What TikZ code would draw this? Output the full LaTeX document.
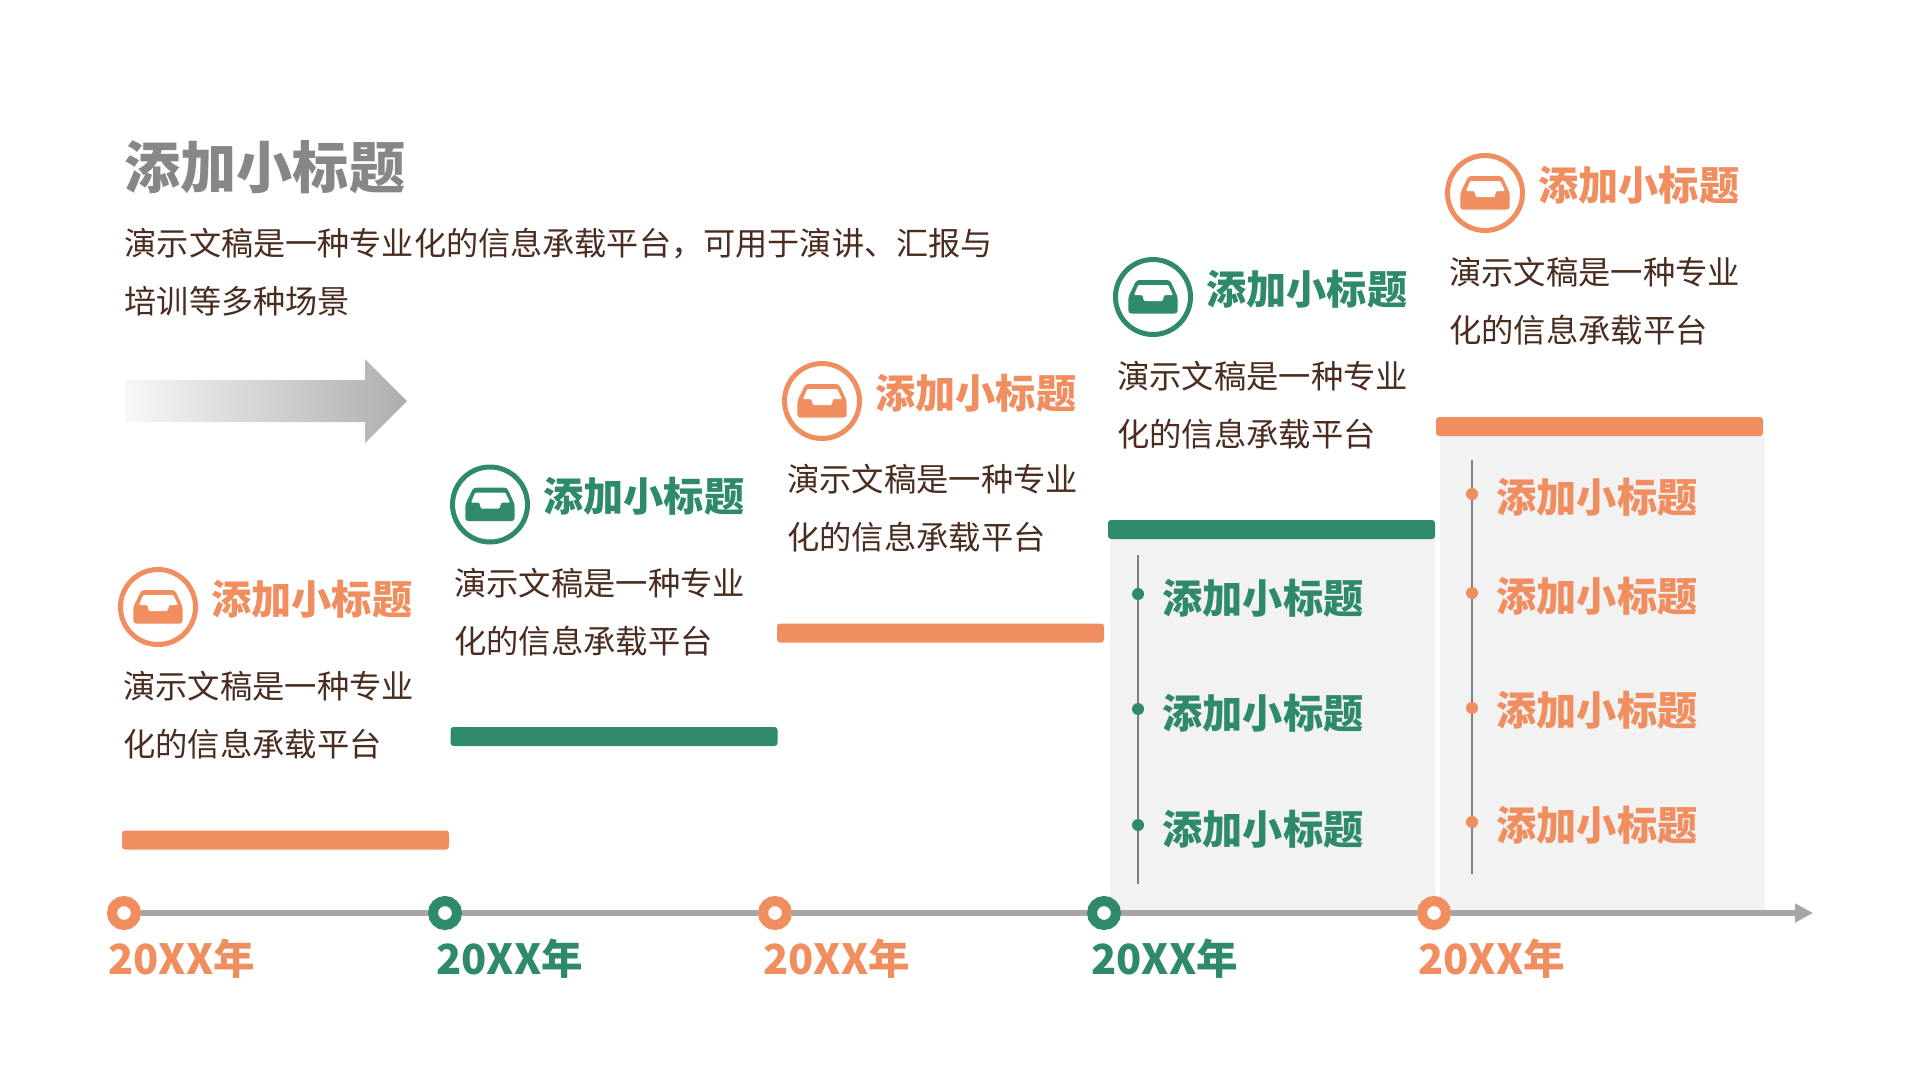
\documentclass[tikz,border=0pt]{standalone}
\usepackage{fontspec}
\setmainfont{Noto Sans CJK SC}
\newfontfamily\heavyfont{Noto Sans CJK SC Black}
\usetikzlibrary{positioning, arrows.meta}

\definecolor{coral}{HTML}{F08E5F}
\definecolor{pine}{HTML}{2F8A6B}
\definecolor{bodybrown}{HTML}{4A2C20}

\tikzset{
    x=1pt, y=-1pt,
    icon/.style={draw=#1, circle, line width=5pt, minimum size=75pt, inner sep=0pt},
    heading/.style={text=#1, inner sep=0pt, font=\fontsize{40.2}{40}\selectfont\heavyfont},
    bodytext/.style={text=bodybrown, inner sep=0pt, align=left, font=\fontsize{32.3}{58}\selectfont},
    bar/.style={fill=#1, rounded corners=3pt, minimum width=327pt, minimum height=19pt, inner sep=0pt},
    panel/.style={fill=black!5, anchor=north west, minimum width=325pt, inner sep=0pt},
    ring/.style={draw=#1, fill=white, circle, line width=10pt, minimum size=24pt, inner sep=0pt},
    year/.style={text=#1, inner sep=0pt, anchor=west, font=\fontsize{41.5}{41.5}\selectfont\bfseries},
    dot/.style={fill=#1, circle, minimum size=12pt, inner sep=0pt},
    stem/.style={draw=black!50, line width=2pt},
    timeline/.style={draw=black!35, line width=6pt},
    tray/.pic={
        \path[pic actions, rounded corners=3pt] (-16.5,-17) -- (17,-17) -- (24.7,0) -- (24.7,16.5) -- (-24.7,16.5) -- (-24.7,0) -- cycle;
        \fill[white, rounded corners=1pt] (-14.7,-12) -- (15.3,-12) -- (20,-2) -- (11.3,-2) -- (9.5,4) -- (-9,4) -- (-10.7,-2) -- (-19,-2) -- cycle;
    }
}

\begin{document}
\begin{tikzpicture}
    \useasboundingbox (0,0) rectangle (1920,1080);

    \node[text=black!47, inner sep=0pt, anchor=west, font=\fontsize{56.2}{56}\selectfont\heavyfont] (T) at (124,167) {添加小标题};
    \node[bodytext, anchor=north west, font=\fontsize{32.15}{58}\selectfont] (TB) at (124.5,228) {演示文稿是一种专业化的信息承载平台，可用于演讲、汇报与\\培训等多种场景};
    \shade[left color=black!3, right color=black!32] (125,380) -- (365,380) -- (365,359) -- (407,401) -- (365,443) -- (365,422) -- (125,422) -- cycle;

    % panels under the last two steps
    \node[panel, minimum height=371pt] (P4) at (1110,539) {};
    \node[panel, minimum height=474pt] (P5) at (1440,436) {};

    % steps
    \node[icon=coral] (I1) at (158,607) {};
    \node[icon=pine] (I2) at (490,504.5) {};
    \node[icon=coral] (I3) at (822,401) {};
    \node[icon=pine] (I4) at (1153,297) {};
    \node[icon=coral] (I5) at (1485,193) {};

    \pic[fill=coral] at (I1) {tray};
    \pic[fill=pine] at (I2) {tray};
    \pic[fill=coral] at (I3) {tray};
    \pic[fill=pine] at (I4) {tray};
    \pic[fill=coral] at (I5) {tray};

    \node[heading=coral, right=13pt of I1, yshift=8pt] (H1) {添加小标题};
    \node[heading=pine, right=13pt of I2, yshift=8pt] (H2) {添加小标题};
    \node[heading=coral, right=13pt of I3, yshift=8pt] (H3) {添加小标题};
    \node[heading=pine, right=13pt of I4, yshift=8pt] (H4) {添加小标题};
    \node[heading=coral, right=13pt of I5, yshift=8pt] (H5) {添加小标题};

    \node[bodytext, below=24pt of I1.south, anchor=north west, xshift=-35pt] (B1) {演示文稿是一种专业\\化的信息承载平台};
    \node[bodytext, below=23pt of I2.south, anchor=north west, xshift=-36pt] (B2) {演示文稿是一种专业\\化的信息承载平台};
    \node[bodytext, below=23pt of I3.south, anchor=north west, xshift=-35pt] (B3) {演示文稿是一种专业\\化的信息承载平台};
    \node[bodytext, below=24pt of I4.south, anchor=north west, xshift=-36pt] (B4) {演示文稿是一种专业\\化的信息承载平台};
    \node[bodytext, below=24pt of I5.south, anchor=north west, xshift=-36pt] (B5) {演示文稿是一种专业\\化的信息承载平台};

    \node[bar=coral] (O1) at (285.5,840) {};
    \node[bar=pine] (O2) at (614,736.5) {};
    \node[bar=coral] (O3) at (940.5,633) {};
    \node[bar=pine] (O4) at (1271.5,529.5) {};
    \node[bar=coral] (O5) at (1599.5,426.5) {};

    % lists inside the panels
    \coordinate (L4a) at (1138,555);
    \coordinate (L4b) at (1138,884);
    \draw[stem] (L4a) -- (L4b);
    \node[dot=pine] (D41) at (1138,594) {};
    \node[dot=pine] (D42) at (1138,709) {};
    \node[dot=pine] (D43) at (1138,825) {};
    \node[heading=pine, right=18pt of D41, yshift=-4pt] (S41) {添加小标题};
    \node[heading=pine, right=18pt of D42, yshift=-4pt] (S42) {添加小标题};
    \node[heading=pine, right=18pt of D43, yshift=-4pt] (S43) {添加小标题};

    \coordinate (L5a) at (1472,460);
    \coordinate (L5b) at (1472,874);
    \draw[stem] (L5a) -- (L5b);
    \node[dot=coral] (D51) at (1472,494) {};
    \node[dot=coral] (D52) at (1472,593) {};
    \node[dot=coral] (D53) at (1472,708) {};
    \node[dot=coral] (D54) at (1472,822) {};
    \node[heading=coral, right=18pt of D51, yshift=-3pt] (S51) {添加小标题};
    \node[heading=coral, right=18pt of D52, yshift=-3pt] (S52) {添加小标题};
    \node[heading=coral, right=18pt of D53, yshift=-2pt] (S53) {添加小标题};
    \node[heading=coral, right=18pt of D54, yshift=-3pt] (S54) {添加小标题};

    % time axis
    \node[ring=coral] (Y1) at (124,913) {};
    \node[ring=pine] (Y2) at (445,913) {};
    \node[ring=coral] (Y3) at (775,913) {};
    \node[ring=pine] (Y4) at (1104,913) {};
    \node[ring=coral] (Y5) at (1434,913) {};
    \coordinate (Yend) at (1813,913);

    \draw[timeline] (Y1) -- (Y2);
    \draw[timeline] (Y2) -- (Y3);
    \draw[timeline] (Y3) -- (Y4);
    \draw[timeline] (Y4) -- (Y5);
    \draw[timeline, -{Triangle[length=18pt, width=18pt]}, black!35] (Y5) -- (Yend);

    \node[year=coral] (L1) at (108,959) {20XX年};
    \node[year=pine] (L2) at (436,959) {20XX年};
    \node[year=coral] (L3) at (763,959) {20XX年};
    \node[year=pine] (L4) at (1091,959) {20XX年};
    \node[year=coral] (L5) at (1418,959) {20XX年};
\end{tikzpicture}
\end{document}
